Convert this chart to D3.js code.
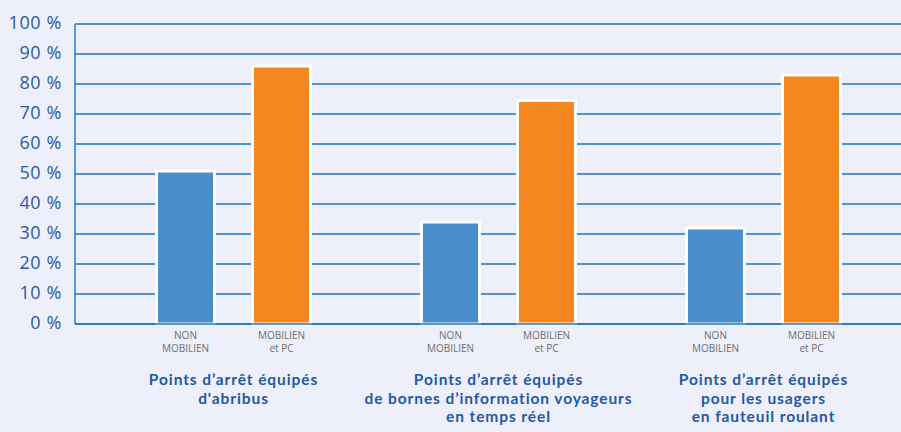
<!DOCTYPE html>
<html>
<head>
<meta charset="utf-8">
<script src="https://cdn.jsdelivr.net/npm/d3@7"></script>
<style>
  body { margin: 0; background: #edf0fa; }
  svg { display: block; }
  .tick-label { font-family: "Open Sans", sans-serif; font-size: 18px; letter-spacing: 0.6px; fill: #2b58a4; }
  .series-label { font-family: "Open Sans", sans-serif; font-size: 10px; fill: #6e6e6e; }
  .group-label { font-family: Lato, sans-serif; font-size: 15.5px; letter-spacing: 0.9px; font-weight: bold; fill: #2458a6; }
</style>
</head>
<body>
<div class="chart"></div>
<script>
// data
var groups = [
  ["Points d\u2019arrêt équipés", "d'abribus"],
  ["Points d\u2019arrêt équipés", "de bornes d\u2019information voyageurs", "en temps réel"],
  ["Points d\u2019arrêt équipés", "pour les usagers", "en fauteuil roulant"]
];
var seriesNames = ["NON MOBILIEN", "MOBILIEN et PC"];
var seriesLabels = [["NON", "MOBILIEN"], ["MOBILIEN", "et PC"]];
var nonMobilien = [51, 34, 32];
var mobilienPC = [86, 74.5, 83];
var yTicks = [0, 10, 20, 30, 40, 50, 60, 70, 80, 90, 100];

var colors = ["#4a8ecb", "#f58720"];

var svgWidth = 901;
var svgHeight = 432;

var svg = d3.select(".chart")
  .append("svg")
  .attr("width", svgWidth)
  .attr("height", svgHeight);

var plotLeft = 75;
var plotTop = 24;
var plotBottom = 324;

// scales
var yScale = d3.scaleLinear()
  .domain([0, 100])
  .range([plotBottom, plotTop]);

var xScale = d3.scaleBand()
  .domain(d3.range(groups.length))
  .range([101, 896]);

var innerScale = d3.scaleBand()
  .domain(seriesNames)
  .range([36.5, xScale.bandwidth() - 36.5]);

var barWidth = 58;

// gridlines
svg.append("g")
  .selectAll("line")
  .data(yTicks)
  .enter()
  .append("line")
  .attr("x1", plotLeft)
  .attr("x2", svgWidth)
  .attr("y1", d => yScale(d))
  .attr("y2", d => yScale(d))
  .attr("stroke", "#1f74c2")
  .attr("stroke-width", 1.4);

// vertical axis line
svg.append("line")
  .attr("x1", plotLeft)
  .attr("x2", plotLeft)
  .attr("y1", yScale(100))
  .attr("y2", yScale(0))
  .attr("stroke", "#1f74c2")
  .attr("stroke-width", 1.4);

// y tick labels
svg.append("g")
  .selectAll("text")
  .data(yTicks)
  .enter()
  .append("text")
  .attr("class", "tick-label")
  .attr("x", 62)
  .attr("y", d => yScale(d) + 5)
  .attr("text-anchor", "end")
  .text(d => d + " %");

// bars
var rows = [];
groups.forEach(function(g, i) {
  rows.push({ group: i, series: seriesNames[0], value: nonMobilien[i], color: colors[0], labels: seriesLabels[0] });
  rows.push({ group: i, series: seriesNames[1], value: mobilienPC[i], color: colors[1], labels: seriesLabels[1] });
});

function barCenter(d) {
  return xScale(d.group) + innerScale(d.series) + innerScale.bandwidth() / 2;
}

svg.append("g")
  .selectAll("rect")
  .data(rows)
  .enter()
  .append("rect")
  .attr("x", d => barCenter(d) - barWidth / 2)
  .attr("y", d => yScale(d.value))
  .attr("width", barWidth)
  .attr("height", d => yScale(0) - yScale(d.value))
  .attr("fill", d => d.color)
  .attr("stroke", "#ffffff")
  .attr("stroke-width", 3);

// redraw baseline over bar strokes
svg.append("line")
  .attr("x1", plotLeft)
  .attr("x2", svgWidth)
  .attr("y1", yScale(0))
  .attr("y2", yScale(0))
  .attr("stroke", "#1f74c2")
  .attr("stroke-width", 1.4);

// series labels under bars
var seriesText = svg.append("g")
  .selectAll("text")
  .data(rows)
  .enter()
  .append("text")
  .attr("class", "series-label")
  .attr("text-anchor", "middle")
  .attr("x", d => barCenter(d))
  .attr("y", 339);

seriesText.selectAll("tspan")
  .data(d => d.labels.map(t => ({ t: t, x: barCenter(d) })))
  .enter()
  .append("tspan")
  .attr("x", d => d.x)
  .attr("dy", (d, i) => i === 0 ? 0 : 12.5)
  .text(d => d.t);

// group labels
var groupText = svg.append("g")
  .selectAll("text")
  .data(groups)
  .enter()
  .append("text")
  .attr("class", "group-label")
  .attr("text-anchor", "middle")
  .attr("x", (d, i) => xScale(i) + xScale.bandwidth() / 2)
  .attr("y", 385);

groupText.selectAll("tspan")
  .data((d, i) => d.map(t => ({ t: t, x: xScale(i) + xScale.bandwidth() / 2 })))
  .enter()
  .append("tspan")
  .attr("x", d => d.x)
  .attr("dy", (d, i) => i === 0 ? 0 : 18.5)
  .text(d => d.t);
</script>
</body>
</html>
